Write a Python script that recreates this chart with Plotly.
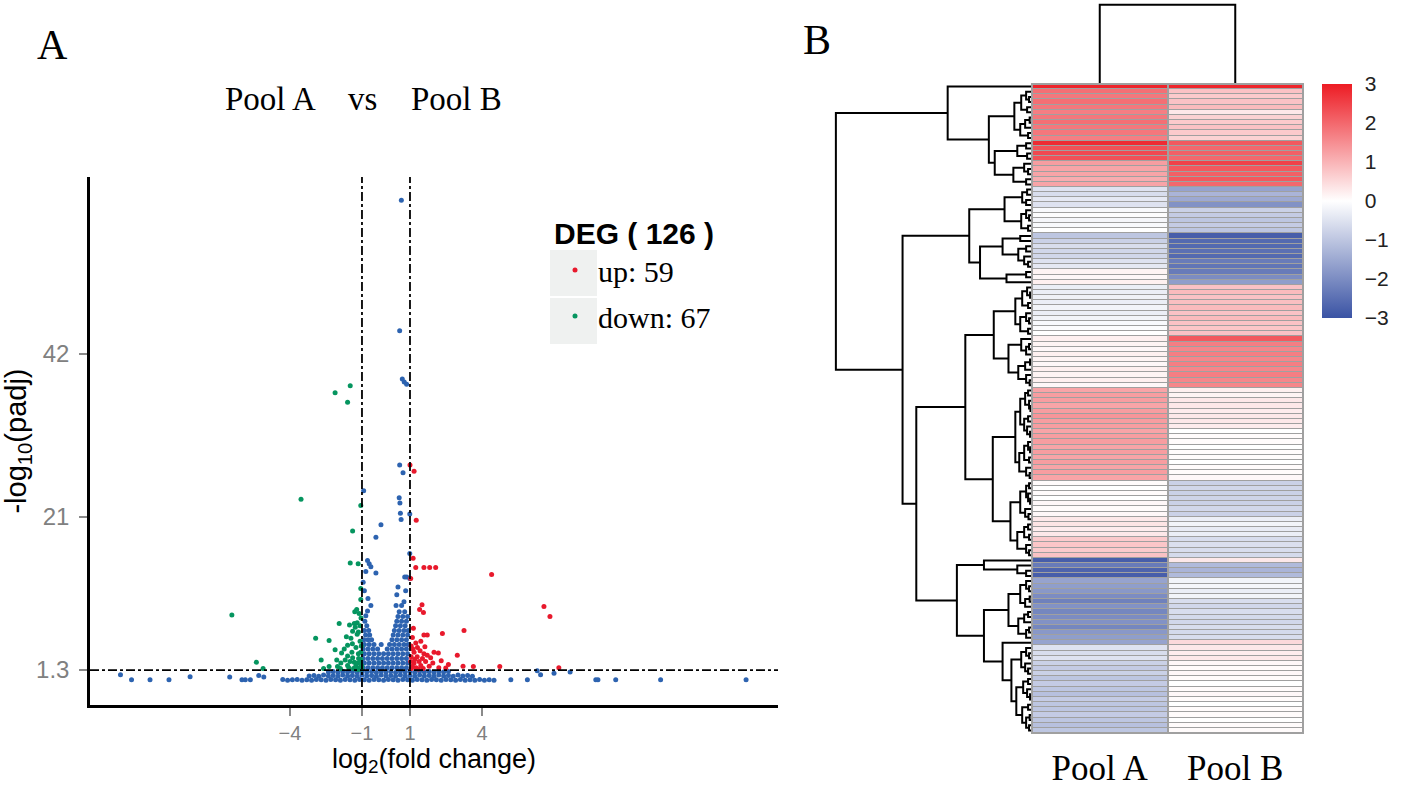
import plotly.graph_objects as go

W, H = 1418, 794

# ---------------- panel A : volcano plot ----------------
# bottom band of non-significant genes (three layers)
blue_base_x = [-4.3, -4.1, -3.9, -3.7, -3.5, -3.3, -3.1, -2.9, -2.7, -2.5,
               -2.3, -2.1, -1.9, -1.7, -1.5, -1.3, -1.1, -0.9, -0.7, -0.5,
               -0.3, -0.1, 0.1, 0.3, 0.5, 0.7, 0.9, 1.1, 1.3, 1.5,
               1.7, 1.9, 2.1, 2.3, 2.5, 2.7, 2.9, 3.1, 3.3, 3.5,
               3.7, 3.9, 4.1, 4.3, 4.5,
               -3.2, -3.0, -2.8, -2.6, -2.4, -2.2, -2.0, -1.8, -1.6, -1.4,
               -1.2, -1.0, -0.8, -0.6, -0.4, -0.2, 0.0, 0.2, 0.4, 0.6,
               0.8, 1.0, 1.2, 1.4, 1.6, 1.8, 2.0, 2.2, 2.4, 2.6,
               2.8, 3.0, 3.2, 3.4, 3.6,
               -2.4, -2.2, -2.0, -1.8, -1.6, -1.4, -1.2, -1.0, -0.8, -0.6,
               -0.4, -0.2, 0.0, 0.2, 0.4, 0.6, 0.8, 1.0, 1.2, 1.4,
               1.6, 1.8, 2.0, 2.2, 2.4, 2.6]
blue_base_y = [0.1, 0.0, 0.05, 0.1, 0.0, 0.05, 0.0, 0.1, 0.05, 0.0,
               0.1, 0.05, 0.0, 0.1, 0.05, 0.0, 0.1, 0.05, 0.0, 0.1,
               0.05, 0.0, 0.1, 0.05, 0.0, 0.1, 0.05, 0.0, 0.1, 0.05,
               0.0, 0.1, 0.05, 0.0, 0.1, 0.05, 0.0, 0.1, 0.0, 0.05,
               0.0, 0.1, 0.0, 0.05, 0.0,
               0.55, 0.6, 0.5, 0.65, 0.55, 0.6, 0.5, 0.65, 0.55, 0.6,
               0.5, 0.65, 0.55, 0.6, 0.5, 0.65, 0.55, 0.6, 0.5, 0.65,
               0.55, 0.6, 0.5, 0.65, 0.55, 0.6, 0.5, 0.65, 0.55, 0.6,
               0.5, 0.65, 0.55, 0.6, 0.5,
               1.05, 1.1, 1.0, 1.15, 1.05, 1.1, 1.0, 1.15, 1.05, 1.1,
               1.0, 1.15, 1.05, 1.1, 1.0, 1.15, 1.05, 1.1, 1.0, 1.15,
               1.05, 1.1, 1.0, 1.15, 1.05, 1.1]

# dense core between the two fold-change cut-offs
blue_core_x = [-0.95, -0.75, -0.55, -0.35, -0.15, 0.05, 0.25, 0.45, 0.65, 0.85,
               -0.9, -0.7, -0.5, -0.3, -0.1, 0.1, 0.3, 0.5, 0.7, 0.9,
               -0.95, -0.75, -0.55, -0.35, -0.15, 0.05, 0.25, 0.45, 0.65, 0.85,
               -0.9, -0.7, -0.5, -0.3, -0.1, 0.1, 0.3, 0.5, 0.7, 0.9,
               -0.95, -0.75, -0.55, -0.35, 0.05, 0.25, 0.45, 0.65, 0.85,
               -0.9, -0.7, -0.5, -0.2, 0.15, 0.35, 0.55, 0.75, 0.92,
               -0.92, -0.75, -0.6, 0.25, 0.45, 0.65, 0.85,
               -0.85, -0.68, 0.3, 0.5, 0.7, 0.9,
               -0.9, -0.72, 0.35, 0.55, 0.75, 0.92,
               -0.8, 0.4, 0.6, 0.8,
               -0.88, 0.45, 0.65, 0.85,
               0.5, 0.7, 0.9,
               0.55, 0.78]
blue_core_y = [1.6, 1.6, 1.6, 1.6, 1.6, 1.6, 1.6, 1.6, 1.6, 1.6,
               2.2, 2.2, 2.2, 2.2, 2.2, 2.2, 2.2, 2.2, 2.2, 2.2,
               2.8, 2.8, 2.8, 2.8, 2.8, 2.8, 2.8, 2.8, 2.8, 2.8,
               3.4, 3.4, 3.4, 3.4, 3.4, 3.4, 3.4, 3.4, 3.4, 3.4,
               4.0, 4.0, 4.0, 4.0, 4.0, 4.0, 4.0, 4.0, 4.0,
               4.6, 4.6, 4.6, 4.6, 4.6, 4.6, 4.6, 4.6, 4.6,
               5.2, 5.2, 5.2, 5.2, 5.2, 5.2, 5.2,
               5.8, 5.8, 5.8, 5.8, 5.8, 5.8,
               6.4, 6.4, 6.4, 6.4, 6.4, 6.4,
               7.0, 7.0, 7.0, 7.0,
               7.6, 7.6, 7.6, 7.6,
               8.2, 8.2, 8.2,
               8.8, 8.8]

# scattered non-significant genes
blue_sparse_x = [-0.93, -0.21, -0.42, -0.77, -0.70, -0.63, -0.84, -0.42, -0.63, -0.77,
                 -0.84, -0.90, -0.75, -0.95,
                 0.64, 0.57, 0.68, 0.76, 0.86, 0.57, 0.71, 0.55, 0.58, 0.60,
                 0.63, 0.99, 0.99, 0.78, 0.86, 0.99, 0.50, 0.45, 0.82, 0.75,
                 0.65, 0.42,
                 -11.06, -10.6, -9.83, -9.04, -8.16, -6.51, -6.0, -5.86, -5.65, -5.3,
                 -5.09,
                 5.2, 5.89, 6.3, 6.44, 7.0, 7.67, 8.74, 8.83, 9.57, 11.44,
                 15.0]
blue_sparse_y = [24.4, 20.0, 18.4, 15.4, 15.0, 14.6, 14.0, 13.8, 9.6, 8.9,
                 8.3, 11.5, 10.5, 12.6,
                 61.8, 45.0, 38.8, 38.4, 38.1, 27.7, 26.7, 23.5, 22.8, 21.5,
                 20.7, 21.4, 16.3, 13.3, 13.3, 13.1, 12.0, 11.0, 11.5, 10.1,
                 9.6, 9.6,
                 0.7, 0.05, 0.05, 0.05, 0.45, 0.4, 0.05, 0.05, 0.05, 0.6,
                 0.4,
                 0.05, 0.05, 1.2, 0.7, 0.9, 1.06, 0.05, 0.05, 0.05, 0.05,
                 0.05]

up_x = [1.00, 1.17, 1.26, 1.13, 1.24, 1.58, 1.82, 2.07, 1.03, 4.40,
        1.50, 1.56, 1.40, 6.58, 6.83, 1.14, 1.58, 1.72, 2.35, 3.25,
        1.10, 1.24, 1.31, 1.42, 1.17, 1.58, 1.72, 2.00, 2.18, 1.86,
        1.52, 1.38, 1.17, 1.65, 2.97, 2.49, 3.21, 3.64, 4.74, 7.20,
        1.05, 1.10, 1.25, 1.45, 1.30, 1.05, 1.20, 1.80, 1.95, 2.20,
        1.06, 1.35, 1.55, 2.30, 1.12, 1.62, 1.45, 1.03, 2.60]
up_y = [27.7, 26.9, 20.6, 15.7, 14.5, 14.5, 14.5, 14.5, 13.1, 13.6,
        9.7, 8.7, 9.1, 9.5, 8.2, 6.7, 5.8, 5.8, 6.0, 6.4,
        5.5, 4.8, 4.2, 3.8, 3.6, 3.4, 3.2, 3.6, 3.5, 2.9,
        2.8, 2.4, 2.2, 2.4, 3.2, 1.57, 1.8, 1.75, 1.75, 1.6,
        3.0, 1.8, 1.6, 1.9, 3.0, 4.4, 2.7, 1.8, 2.2, 1.6,
        1.5, 1.45, 1.5, 2.5, 4.0, 4.3, 5.0, 2.4, 2.0]

down_x = [-1.49, -2.12, -1.60, -3.54, -1.39, -1.05, -1.49, -1.16, -1.05, -1.05,
          -1.22, -1.30, -1.12, -1.95, -1.52, -1.32, -1.20, -6.42, -2.93, -2.37,
          -2.12, -1.74, -1.60, -1.46, -1.39, -5.40, -5.12, -2.37, -2.02, -1.88,
          -1.60, -1.39, -1.32, -1.25, -1.18, -1.10, -1.05, -1.15, -1.25, -1.08,
          -1.20, -1.35, -1.55, -1.70, -1.02, -1.12, -1.22, -2.70, -1.85, -1.05,
          -1.28, -1.08, -1.15, -1.40, -1.50, -1.02, -1.08, -1.42, -1.65, -1.03,
          -1.30, -1.90, -1.14, -2.05, -1.04, -1.60, -2.60]
down_y = [37.9, 37.0, 35.8, 23.3, 19.2, 22.5, 15.1, 15.0, 11.8, 10.4,
          9.1, 8.8, 8.6, 7.3, 7.1, 7.3, 7.4, 8.4, 5.4, 5.1,
          3.9, 4.0, 4.5, 5.4, 6.3, 2.3, 1.5, 1.75, 1.75, 2.2,
          3.1, 2.9, 2.3, 1.9, 2.2, 1.6, 2.7, 3.4, 4.2, 5.0,
          5.9, 1.5, 1.6, 2.6, 1.9, 1.4, 1.4, 2.6, 3.5, 3.6,
          6.8, 7.0, 6.2, 4.7, 2.4, 1.45, 2.3, 3.6, 5.6, 4.4,
          1.55, 1.5, 2.8, 2.6, 8.0, 1.9, 1.5]

deg_total, up_count, down_count = 126, 59, 67
fc_cut = [-1, 1]
padj_cut = 1.3
x_ticks = [-4, -1, 1, 4]
x_labels = ["\u22124", "\u22121", "1", "4"]
y_ticks = [1.3, 21, 42]
y_labels = ["1.3", "21", "42"]

# ---------------- panel B : clustered heatmap ----------------
samples = ["Pool A", "Pool B"]
pool_a = [2.9,
          1.9, 1.8, 1.9, 1.8, 1.7, 1.8, 1.9, 1.8, 1.8, 1.7,
          2.8, 2.3, 2.4, 2.3,
          1.3, 1.2, 1.2, 1.1, 1.2,
          -0.5, -0.6, -0.4, -0.5,
          -0.1, -0.05, -0.15, -0.1, 0.0,
          -1.0, -0.8,
          -0.6, -0.7, -0.7, -0.5, -0.4,
          0.15, 0.1, 0.2,
          -0.3, -0.3, -0.25, -0.3, -0.2, -0.3, -0.2, -0.1, -0.05, 0.0,
          0.2, 0.15, 0.1, 0.2, 0.15, 0.1, 0.2, 0.15, 0.2, 0.1,
          1.2, 1.3, 1.3, 1.2, 1.3, 1.4, 1.3, 1.3, 1.2, 1.3, 1.3, 1.2, 1.3, 1.2, 1.3, 1.2, 1.3, 1.2,
          0.05, 0.0, 0.05, 0.0, 0.1, 0.05, 0.1, 0.3, 0.35, 0.25, 0.3, 0.7, 0.75, 0.7, 0.8,
          -2.8, -2.3, -2.7, -2.8,
          -1.6, -1.7, -1.8, -2.0, -2.2, -1.9, -2.1, -2.0, -1.9, -2.1, -1.8, -1.7,
          -1.6,
          -0.5, -0.6, -0.5, -0.8, -0.9, -0.8, -1.0, -0.9, -1.0, -1.1, -0.9, -1.0, -1.0, -0.9, -1.0, -1.1, -1.0]
pool_b = [2.9,
          0.8, 0.7, 0.8, 0.9, 0.3, 0.6, 0.7, 0.8, 0.7, 0.6,
          2.2, 2.0, 2.1, 2.0,
          2.5, 2.2, 2.1, 2.2, 2.0,
          -1.6, -1.3, -1.5, -1.9,
          -0.8, -0.9, -1.0, -0.9, -1.0,
          -2.8, -2.6,
          -2.6, -2.5, -2.6, -2.3, -2.4,
          -2.3, -2.0, -1.7,
          0.8, 0.9, 0.8, 0.85, 0.9, 0.8, 0.9, 0.8, 0.75, 0.8,
          2.2, 1.7, 1.6, 1.7, 1.6, 1.7, 1.6, 1.7, 1.6, 1.6,
          0.2, 0.15, 0.3, 0.3, 0.25, 0.3, 0.3, 0.25, 0.0, 0.05, 0.05, 0.0, 0.05, 0.05, 0.0, 0.05, 0.05, 0.1,
          -0.8, -0.7, -0.8, -0.75, -0.8, -0.7, -0.8, -0.3, -0.2, -0.35, -0.3, -0.6, -0.55, -0.6, -0.65,
          0.3, -1.2, -1.3, -1.2,
          -0.2, -0.15, -0.3, -0.2, -0.6, -0.7, -0.6, -0.65, -0.7, -0.6, -0.65, -0.6,
          0.5,
          0.3, 0.25, 0.3, 0.1, 0.05, 0.1, 0.05, 0.0, 0.05, 0.1, 0.05, 0.0, 0.05, 0.05, 0.0, 0.05, 0.05]
scale_ticks = [-3, -2, -1, 0, 1, 2, 3]

# row dendrogram, node = [height, left, right], leaf = row index
blk2 = [0.9, [0.55, [0.3, 1, [0.15, 2, 3]], [0.25, 4, 5]], [0.6, [0.35, [0.12, 6, 7], 8], [0.2, 9, 10]]]
blk3 = [0.75, [0.3, 11, 12], [0.25, 13, 14]]
blk4 = [0.95, [0.4, 15, [0.2, 16, 17]], [0.3, 18, 19]]
blk5 = [0.5, [0.25, 20, 21], [0.3, 22, 23]]
blk6 = [0.55, [0.3, 24, [0.15, 25, 26]], [0.2, 27, 28]]
blk7 = [0.6, 29, 30]
blk8 = [0.7, [0.3, 31, 32], [0.4, 33, [0.2, 34, 35]]]
blk9 = [1.3, [0.3, 36, 37], 38]
blk10 = [0.85, [0.5, [0.25, 39, [0.1, 40, 41]], [0.2, 42, 43]], [0.6, [0.3, 44, [0.15, 45, 46]], [0.2, 47, 48]]]
blk11 = [1.2, [0.55, 49, [0.3, [0.15, 50, 51], 52]], [0.7, [0.35, [0.1, 53, 54], 55], [0.3, 56, [0.12, 57, 58]]]]
blk12 = [0.85, [0.6, [0.35, [0.2, 59, 60], [0.15, 61, [0.08, 62, 63]]], [0.4, [0.2, 64, 65], [0.25, 66, [0.1, 67, 68]]]],
         [0.65, [0.4, [0.2, 69, [0.1, 70, 71]], [0.15, 72, 73]], [0.3, 74, [0.12, 75, 76]]]]
blk13 = [1.1, [0.6, [0.3, [0.15, 77, 78], [0.2, 79, [0.1, 80, 81]]], [0.35, 82, [0.18, 83, 84]]],
         [0.75, [0.4, [0.2, 85, 86], [0.15, 87, 88]], [0.3, 89, [0.15, 90, 91]]]]
blk14 = [2.45, 92, [0.75, 93, [0.3, 94, 95]]]
blk15 = [1.2, [0.6, [0.3, 96, [0.15, 97, 98]], [0.35, [0.12, 99, 100], 101]],
         [0.7, [0.4, [0.2, 102, 103], 104], [0.3, [0.15, 105, 106], 107]]]
blk16 = [1.5, 108, [1.05, [0.55, [0.3, 109, [0.15, 110, 111]], [0.35, 112, [0.2, 113, 114]]],
                   [0.8, [0.45, [0.2, 115, 116], [0.25, 117, [0.1, 118, 119]]],
                    [0.5, [0.2, 120, 121], [0.3, [0.12, 122, 123], [0.15, 124, 125]]]]]]

top_part = [4.3, 0, [2.2, blk2, [1.9, blk3, blk4]]]
mid_part = [3.2, [1.4, blk5, blk6], [2.65, [1.5, blk7, blk8], blk9]]
low_part = [5.9, [3.4, [1.95, blk10, blk11], [2.0, blk12, blk13]], [3.83, blk14, [2.45, blk15, blk16]]]
row_tree = [10.0, top_part, [6.6, mid_part, low_part]]
col_tree = [1.0, 0, 1]


def walk(node, heights, pos):
    # collect the elbow segments of a dendrogram; returns (position, height)
    if isinstance(node, int):
        return node, 0.0
    h, left, right = node
    p1, h1 = walk(left, heights, pos)
    p2, h2 = walk(right, heights, pos)
    heights += [h1, h, h, h2, None]
    pos += [p1, p1, p2, p2, None]
    return (p1 + p2) / 2, h


BLUE, RED, GREEN = "#2D63B0", "#E8192C", "#05955F"
SANS, SERIF = "Liberation Sans", "Liberation Serif"

fig = go.Figure()
fig.add_trace(go.Scatter(
    x=blue_base_x + blue_core_x + blue_sparse_x,
    y=blue_base_y + blue_core_y + blue_sparse_y,
    mode="markers", marker=dict(color=BLUE, size=5),
    showlegend=False, hoverinfo="skip"))
fig.add_trace(go.Scatter(
    x=down_x, y=down_y, mode="markers", marker=dict(color=GREEN, size=5),
    name=f"down: {down_count}", legendgroup="down", legendrank=2))
fig.add_trace(go.Scatter(
    x=up_x, y=up_y, mode="markers", marker=dict(color=RED, size=5),
    name=f"up: {up_count}", legendgroup="up", legendrank=1))

z = [[a, b] for a, b in zip(pool_a, pool_b)]
fig.add_trace(go.Heatmap(
    z=z, x=[0, 1], y=list(range(len(z))), xaxis="x2", yaxis="y2",
    zmin=-3, zmax=3, xgap=2, ygap=1,
    colorscale=[[0, "#3A53A4"], [0.5, "#FFFFFF"], [1, "#ED1C24"]],
    colorbar=dict(x=1322 / W, xanchor="left", y=1 - 84 / H, yanchor="top",
                  len=234 / H, lenmode="fraction", thickness=30,
                  outlinewidth=0, xpad=0, ypad=0,
                  tickvals=scale_ticks, ticks="outside", ticklen=9,
                  tickcolor="rgba(0,0,0,0)",
                  tickfont=dict(family=SANS, size=21, color="#222222")),
    hoverinfo="skip"))

rh, rp = [], []
walk(row_tree, rh, rp)
fig.add_trace(go.Scatter(x=rh, y=rp, mode="lines", xaxis="x3", yaxis="y3",
                         line=dict(color="black", width=2),
                         showlegend=False, hoverinfo="skip"))
ch, cp = [], []
walk(col_tree, ch, cp)
fig.add_trace(go.Scatter(x=cp, y=ch, mode="lines", xaxis="x4", yaxis="y4",
                         line=dict(color="black", width=2),
                         showlegend=False, hoverinfo="skip"))

hidden = dict(visible=False, showgrid=False, zeroline=False)
n = len(pool_a)


def label(text, px, py, size):
    return dict(text=text, x=px / W, y=1 - py / H, xref="paper", yref="paper",
                xanchor="center", yanchor="middle", showarrow=False,
                font=dict(family=SERIF, size=size, color="black"))


fig.update_layout(
    width=W, height=H, autosize=False,
    margin=dict(l=0, r=0, t=0, b=0),
    paper_bgcolor="white", plot_bgcolor="rgba(0,0,0,0)",
    xaxis=dict(domain=[90 / W, 778 / W], range=[-12.33, 16.33],
               showgrid=False, zeroline=False,
               showline=True, linecolor="black", linewidth=2.5,
               ticks="outside", ticklen=8, tickwidth=2, tickcolor="#8A8A8A",
               tickvals=x_ticks, ticktext=x_labels, ticklabelstandoff=0,
               tickfont=dict(family=SANS, size=20, color="#808080"),
               title=dict(text="log<sub>2</sub>(fold change)", standoff=2,
                          font=dict(family=SANS, size=27, color="black"))),
    yaxis=dict(domain=[1 - 705 / H, 1 - 177 / H], range=[-3.2, 64.8],
               showgrid=False, zeroline=False,
               showline=True, linecolor="black", linewidth=2.5,
               ticks="outside", ticklen=8, tickwidth=2, tickcolor="#8A8A8A",
               tickvals=y_ticks, ticktext=y_labels, ticklabelstandoff=5,
               tickfont=dict(family=SANS, size=24, color="#808080"),
               title=dict(text="-log<sub>10</sub>(padj)", standoff=6,
                          font=dict(family=SANS, size=29, color="black"))),
    xaxis2=dict(domain=[1032 / W, 1303 / W], anchor="y2", range=[-0.5, 1.5],
                showgrid=False, zeroline=False, showline=False, ticks="",
                tickvals=[0, 1], ticktext=samples, ticklabelstandoff=11,
                tickfont=dict(family=SERIF, size=35, color="black")),
    yaxis2=dict(domain=[1 - 733 / H, 1 - 84 / H], anchor="x2",
                range=[n - 0.5, -0.5], **hidden),
    xaxis3=dict(domain=[830 / W, 1032 / W], anchor="y3", range=[10.3, 0], **hidden),
    yaxis3=dict(domain=[1 - 733 / H, 1 - 84 / H], anchor="x3",
                range=[n - 0.5, -0.5], **hidden),
    xaxis4=dict(domain=[1032 / W, 1303 / W], anchor="y4", range=[-0.5, 1.5], **hidden),
    yaxis4=dict(domain=[1 - 84 / H, 1.0], anchor="x4", range=[0, 1.06], **hidden),
    legend=dict(x=552 / W, y=1 - 205 / H, xanchor="left", yanchor="top",
                bgcolor="rgba(0,0,0,0)", traceorder="grouped", tracegroupgap=4,
                itemsizing="trace", itemwidth=36,
                font=dict(family=SERIF, size=30, color="black"),
                title=dict(text=f"DEG ( {deg_total} )", side="top",
                           font=dict(family=SANS, size=30, color="black",
                                     weight="bold"))),
    shapes=[
        # fold-change and padj cut-offs
        dict(type="line", xref="x", yref="y domain", x0=fc_cut[0], x1=fc_cut[0],
             y0=0, y1=1, line=dict(color="black", width=1.8, dash="dashdot")),
        dict(type="line", xref="x", yref="y domain", x0=fc_cut[1], x1=fc_cut[1],
             y0=0, y1=1, line=dict(color="black", width=1.8, dash="dashdot")),
        dict(type="line", xref="x domain", yref="y", x0=0, x1=1,
             y0=padj_cut, y1=padj_cut,
             line=dict(color="black", width=1.8, dash="dashdot")),
        # legend key boxes
        dict(type="rect", xref="paper", yref="paper", layer="below",
             x0=550 / W, x1=597 / W, y0=1 - 296 / H, y1=1 - 250 / H,
             fillcolor="#EFF1F0", line=dict(width=0)),
        dict(type="rect", xref="paper", yref="paper", layer="below",
             x0=550 / W, x1=597 / W, y0=1 - 344 / H, y1=1 - 298 / H,
             fillcolor="#EFF1F0", line=dict(width=0)),
        # heatmap grid colour and frame
        dict(type="rect", xref="x2 domain", yref="y2 domain", layer="below",
             x0=0, x1=1, y0=0, y1=1, fillcolor="#A0A0A0", line=dict(width=0)),
        dict(type="rect", xref="x2 domain", yref="y2 domain", layer="above",
             x0=0, x1=1, y0=0, y1=1, line=dict(color="#A0A0A0", width=2)),
    ],
    annotations=[
        label("A", 52, 45, 42),
        label("B", 817, 40, 42),
        label("Pool A", 270, 99, 33),
        label("vs", 362, 99, 33),
        label("Pool B", 456, 99, 33),
    ],
)

# the page body has a default 8px margin; drop it so the figure sits at 0,0
fig.write_html("out.html", config={"displayModeBar": False},
               post_script="document.body.style.margin='0';")
